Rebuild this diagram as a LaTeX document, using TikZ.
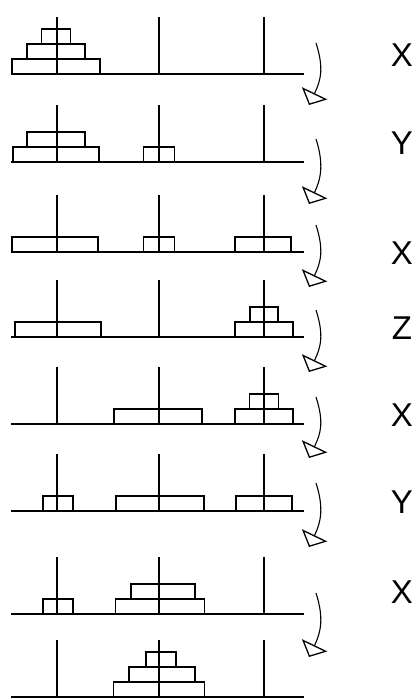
\documentclass[tikz,border=0pt]{standalone}
\usepackage{fontspec}
\usetikzlibrary{arrows.meta}
\newfontfamily\labelfont{Liberation Sans}

\tikzstyle{rod}       = [line width=1.5pt]
\tikzstyle{disk}      = [draw, line width=1.5pt]
\tikzstyle{move}      = [line width=1.1pt, -{Triangle[open, length=13pt, width=28pt, line width=1.3pt]}]
\tikzstyle{movelabel} = [font=\labelfont\fontsize{33}{38}\selectfont]

% disk on peg #1, row base #2, level #3, width #4
\newcommand{\putdisk}[4]{\draw[disk] ({#1-#4/2},{#2-#3*15}) rectangle ({#1+#4/2},{#2-#3*15-15});}

\begin{document}
\begin{tikzpicture}[x=1pt, y=-1pt]
        \useasboundingbox (0,0) rectangle (420,699);

        % the eight positions
        \foreach \y in {74,162,252,337,424,511,614,697} {
            \draw[rod] (11,\y) -- (304,\y);
            \draw[rod] (57,\y) -- (57,\y-57);
            \draw[rod] (159,\y) -- (159,\y-57);
            \draw[rod] (264,\y) -- (264,\y-57);
        }

        \putdisk{56}{74}{0}{88} \putdisk{56}{74}{1}{58} \putdisk{56}{74}{2}{29}
        \putdisk{56}{162}{0}{86} \putdisk{56}{162}{1}{58} \putdisk{159}{162}{0}{31}
        \putdisk{55}{252}{0}{86} \putdisk{159}{252}{0}{31} \putdisk{263}{252}{0}{56}
        \putdisk{58}{337}{0}{86} \putdisk{264}{337}{0}{58} \putdisk{264}{337}{1}{28}
        \putdisk{158}{424}{0}{88} \putdisk{264}{424}{0}{58} \putdisk{264}{424}{1}{29}
        \putdisk{58}{511}{0}{30} \putdisk{160}{511}{0}{88} \putdisk{264}{511}{0}{56}
        \putdisk{58}{614}{0}{30} \putdisk{160}{614}{0}{89} \putdisk{163}{614}{1}{64}
        \putdisk{159}{697}{0}{91} \putdisk{162}{697}{1}{66} \putdisk{161}{697}{2}{30}

        % moves
        \foreach \s/\e/\lbl/\ly [count=\i] in {43/105/X/55, 139/204/Y/143, 225/287/X/253, 310/372/Z/328, 397/458/X/415, 483/547/Y/502, 593/657/X/592} {
            \coordinate (from\i) at (316,\s);
            \coordinate (to\i) at (309,\e);
            \draw[move] (from\i) .. controls +(8,25) and +(12,-25) .. (to\i);
            \node[movelabel] (lab\i) at (402,\ly) {\lbl};
        }
    \end{tikzpicture}
\end{document}
